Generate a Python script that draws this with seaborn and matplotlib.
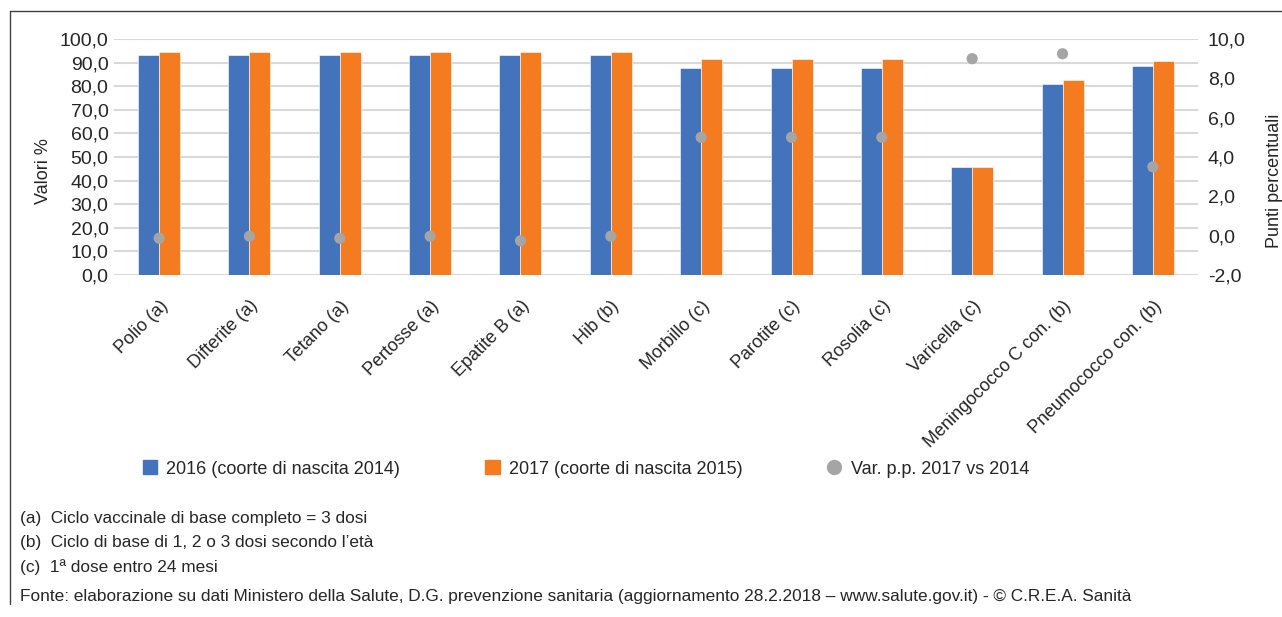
import matplotlib
matplotlib.use('Agg')
import matplotlib.pyplot as plt
from matplotlib.lines import Line2D
from matplotlib.patches import Patch
import seaborn as sns
import pandas as pd
import numpy as np

vaccini = ['Polio (a)', 'Difterite (a)', 'Tetano (a)', 'Pertosse (a)', 'Epatite B (a)', 'Hib (b)',
           'Morbillo (c)', 'Parotite (c)', 'Rosolia (c)', 'Varicella (c)',
           'Meningococco C con. (b)', 'Pneumococco con. (b)']
cop_2016 = [93.4, 93.4, 93.4, 93.4, 93.4, 93.4, 87.6, 87.6, 87.6, 45.6, 80.8, 88.6]
cop_2017 = [94.3, 94.3, 94.3, 94.3, 94.3, 94.3, 91.5, 91.5, 91.5, 45.6, 82.6, 90.5]
var_pp = [-0.13, -0.03, -0.13, -0.03, -0.26, -0.03, 5.0, 5.0, 5.0, 9.0, 9.25, 3.5]

serie = ['2016 (coorte di nascita 2014)', '2017 (coorte di nascita 2015)']
note = ['(a)  Ciclo vaccinale di base completo = 3 dosi',
        '(b)  Ciclo di base di 1, 2 o 3 dosi secondo l\u2019et\u00e0',
        '(c)  1\u00aa dose entro 24 mesi',
        'Fonte: elaborazione su dati Ministero della Salute, D.G. prevenzione sanitaria '
        '(aggiornamento 28.2.2018 \u2013 www.salute.gov.it) - \u00a9 C.R.E.A. Sanit\u00e0']

df = pd.DataFrame({'vaccino': vaccini * 2,
                   'valore': cop_2016 + cop_2017,
                   'anno': [serie[0]] * len(vaccini) + [serie[1]] * len(vaccini)})

sns.set_theme(style='white')
plt.rcParams['font.family'] = ['Liberation Sans', 'DejaVu Sans']
txt = '#262626'

blu = '#4373BA'
arancio = '#F47B20'
grigio = '#A5A5A5'

fig = plt.figure(figsize=(12.82, 6.17), dpi=100)
ax = fig.add_axes([0.0889, 0.5543, 0.8456, 0.3825])

sns.barplot(data=df, x='vaccino', y='valore', hue='anno', palette=[blu, arancio], saturation=1,
            width=0.465, gap=0, ax=ax, legend=False, edgecolor='white', linewidth=0.4)
ax.set_ylim(0, 100)
ax.set_xlim(-0.5, len(vaccini) - 0.5)
ax.set_yticks(np.arange(0, 101, 10))
ax.set_yticklabels([f'{v:.1f}'.replace('.', ',') for v in np.arange(0, 101, 10)])
ax.yaxis.grid(True, color='#d9d9d9', linewidth=1.5)
ax.set_axisbelow(True)
for s in ax.spines.values():
    s.set_visible(False)
ax.set_xlabel('')
ax.set_ylabel('Valori %', fontsize=13, color=txt)
ax.yaxis.set_label_coords(-0.0575, 0.44)
ax.tick_params(axis='y', labelsize=14, colors=txt, length=0, pad=4)
ax.tick_params(axis='x', length=0, pad=16)
ax.set_xticks(range(len(vaccini)))
ax.set_xticklabels(vaccini, rotation=45, ha='right', rotation_mode='anchor', fontsize=13, color=txt)

ax2 = ax.twinx()
sns.scatterplot(x=np.arange(len(vaccini)), y=var_pp, color=grigio, s=65, edgecolor='none',
                ax=ax2, zorder=5)
ax2.set_ylim(-2, 10)
ax2.set_yticks(np.arange(-2, 10.1, 2))
ax2.set_yticklabels([f'{v:.1f}'.replace('.', ',') for v in np.arange(-2, 10.1, 2)])
ax2.tick_params(axis='y', labelsize=14, colors=txt, length=0, pad=7)
ax2.set_ylabel('Punti percentuali', fontsize=13, color=txt)
ax2.yaxis.set_label_coords(1.0625, 0.40)
for s in ax2.spines.values():
    s.set_visible(False)
ax2.grid(False)

handles = [Patch(color=blu), Patch(color=arancio),
           Line2D([], [], marker='o', linestyle='none', color=grigio, markersize=10)]
labels = serie + ['Var. p.p. 2017 vs 2014']
fig.legend(handles, labels, loc='center left', bbox_to_anchor=(143 / 1282, 1 - 469 / 617), ncol=3,
           frameon=False, fontsize=13, columnspacing=4.7, handlelength=0.8, handleheight=0.8,
           handletextpad=0.5, labelcolor=txt, borderpad=0, borderaxespad=0)

for t, y in zip(note, [518, 543, 567, 597]):
    fig.text(20 / 1282, 1 - y / 617, t, fontsize=12.4, color=txt, va='center')

fig.add_artist(Line2D([10 / 1282, 10 / 1282], [1 - 604 / 617, 1 - 11 / 617], color='#404040', linewidth=1))
fig.add_artist(Line2D([10 / 1282, 1.0], [1 - 11 / 617, 1 - 11 / 617], color='#404040', linewidth=1))

fig.savefig('out.png', dpi=100)
